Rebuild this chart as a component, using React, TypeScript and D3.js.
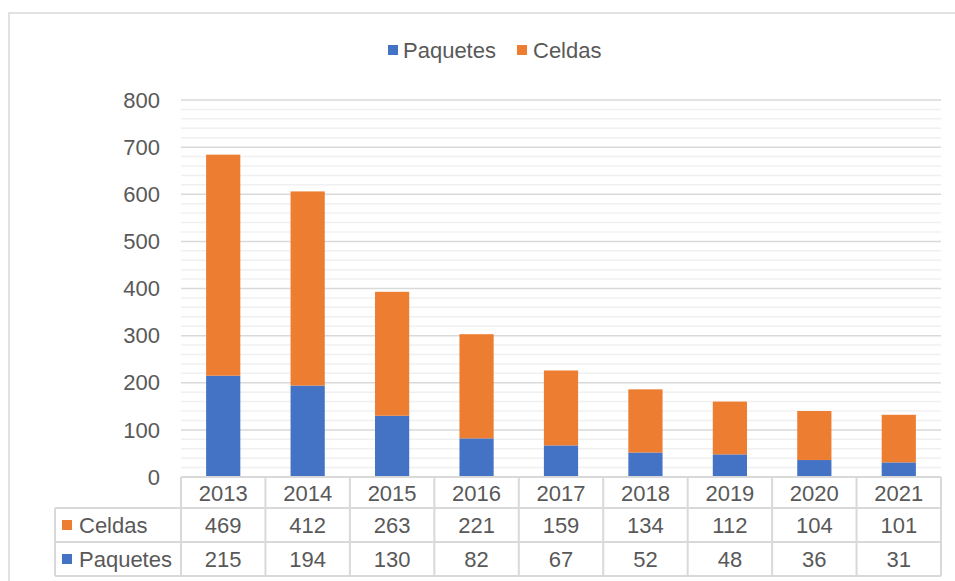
import React from "react";
import * as d3 from "d3";

// Yearly counts, stacked: Paquetes at the bottom, Celdas on top
const years = ["2013", "2014", "2015", "2016", "2017", "2018", "2019", "2020", "2021"];
const celdas = [469, 412, 263, 221, 159, 134, 112, 104, 101];
const paquetes = [215, 194, 130, 82, 67, 52, 48, 36, 31];
const yTicks = [0, 100, 200, 300, 400, 500, 600, 700, 800];

const W = 955;
const H = 581;
const BLUE = "#4472C4";
const ORANGE = "#ED7D31";
const TEXT = "#595959";
const GRID = "#d9d9d9";
const MINOR = "#f0f0f0";
const FONT = "'Liberation Sans', Arial, sans-serif";

export default function App() {
  const plotLeft = 181;
  const plotRight = 941;
  const y = d3.scaleLinear().domain([0, 800]).range([477, 100]);
  const x = d3.scaleBand<string>().domain(years).range([plotLeft, plotRight]).paddingInner(0).paddingOuter(0);
  const bw = x.bandwidth();
  const barW = bw * 0.405;

  const minorTicks = d3.range(0, 801, 20).filter((v) => v % 100 !== 0);

  const stackData = years.map((yr, i) => ({ year: yr, Paquetes: paquetes[i], Celdas: celdas[i] }));
  const stack = d3.stack<any>().keys(["Paquetes", "Celdas"])(stackData);
  const colors: Record<string, string> = { Paquetes: BLUE, Celdas: ORANGE };

  // data table rows
  const row0Top = 477;
  const row1Top = 508;
  const row2Top = 542;
  const tableBottom = 576;
  const tableLeft = 55;

  const rows = [
    { name: "Celdas", values: celdas, color: ORANGE, top: row1Top, bottom: row2Top },
    { name: "Paquetes", values: paquetes, color: BLUE, top: row2Top, bottom: tableBottom },
  ];

  return (
    <svg
      width={W}
      height={H}
      style={{ position: "absolute", left: 0, top: 0, background: "#fff" }}
      fontFamily={FONT}
    >
      {/* chart frame */}
      <rect x={9} y={13} width={W} height={H} fill="#fff" stroke={GRID} strokeWidth={1.5} />

      {/* legend */}
      <g>
        <rect x={388} y={45} width={10} height={10} fill={BLUE} />
        <text x={403} y={50} dy="0.35em" fontSize={22} fill={TEXT}>Paquetes</text>
        <rect x={517} y={45} width={10} height={10} fill={ORANGE} />
        <text x={533} y={50} dy="0.35em" fontSize={22} fill={TEXT}>Celdas</text>
      </g>

      {/* gridlines */}
      {minorTicks.map((t) => (
        <line key={"m" + t} x1={plotLeft} x2={plotRight} y1={y(t)} y2={y(t)} stroke={MINOR} strokeWidth={1.5} />
      ))}
      {yTicks.map((t) => (
        <line key={"g" + t} x1={plotLeft} x2={plotRight} y1={y(t)} y2={y(t)} stroke={GRID} strokeWidth={1.5} />
      ))}

      {/* y axis labels */}
      {yTicks.map((t) => (
        <text key={"t" + t} x={160} y={y(t)} dy="0.35em" textAnchor="end" fontSize={22} fill={TEXT}>
          {t}
        </text>
      ))}

      {/* stacked bars */}
      {stack.map((layer) => (
        <g key={layer.key} fill={colors[layer.key]}>
          {layer.map((d, i) => (
            <rect
              key={years[i]}
              x={(x(years[i]) as number) + (bw - barW) / 2}
              y={y(d[1])}
              width={barW}
              height={y(d[0]) - y(d[1])}
            />
          ))}
        </g>
      ))}

      {/* data table */}
      <g stroke={GRID} strokeWidth={2} fill="none">
        <line x1={plotLeft} x2={plotRight} y1={row0Top} y2={row0Top} />
        <line x1={tableLeft} x2={plotRight} y1={row1Top} y2={row1Top} />
        <line x1={tableLeft} x2={plotRight} y1={row2Top} y2={row2Top} />
        <line x1={tableLeft} x2={plotRight} y1={tableBottom} y2={tableBottom} />
        <line x1={tableLeft} x2={tableLeft} y1={row1Top} y2={tableBottom} />
        {years.map((yr) => (
          <line key={"v" + yr} x1={x(yr)} x2={x(yr)} y1={row0Top} y2={tableBottom} />
        ))}
        <line x1={plotRight} x2={plotRight} y1={row0Top} y2={tableBottom} />
      </g>

      {years.map((yr) => (
        <text
          key={"h" + yr}
          x={(x(yr) as number) + bw / 2}
          y={(row0Top + row1Top) / 2 + 1}
          dy="0.35em"
          textAnchor="middle"
          fontSize={22}
          fill={TEXT}
        >
          {yr}
        </text>
      ))}

      {rows.map((r) => (
        <g key={r.name}>
          <rect x={62} y={(r.top + r.bottom) / 2 - 5} width={10} height={10} fill={r.color} />
          <text x={79} y={(r.top + r.bottom) / 2} dy="0.35em" fontSize={22} fill={TEXT}>
            {r.name}
          </text>
          {r.values.map((v, i) => (
            <text
              key={years[i]}
              x={(x(years[i]) as number) + bw / 2}
              y={(r.top + r.bottom) / 2}
              dy="0.35em"
              textAnchor="middle"
              fontSize={22}
              fill={TEXT}
            >
              {v}
            </text>
          ))}
        </g>
      ))}
    </svg>
  );
}
